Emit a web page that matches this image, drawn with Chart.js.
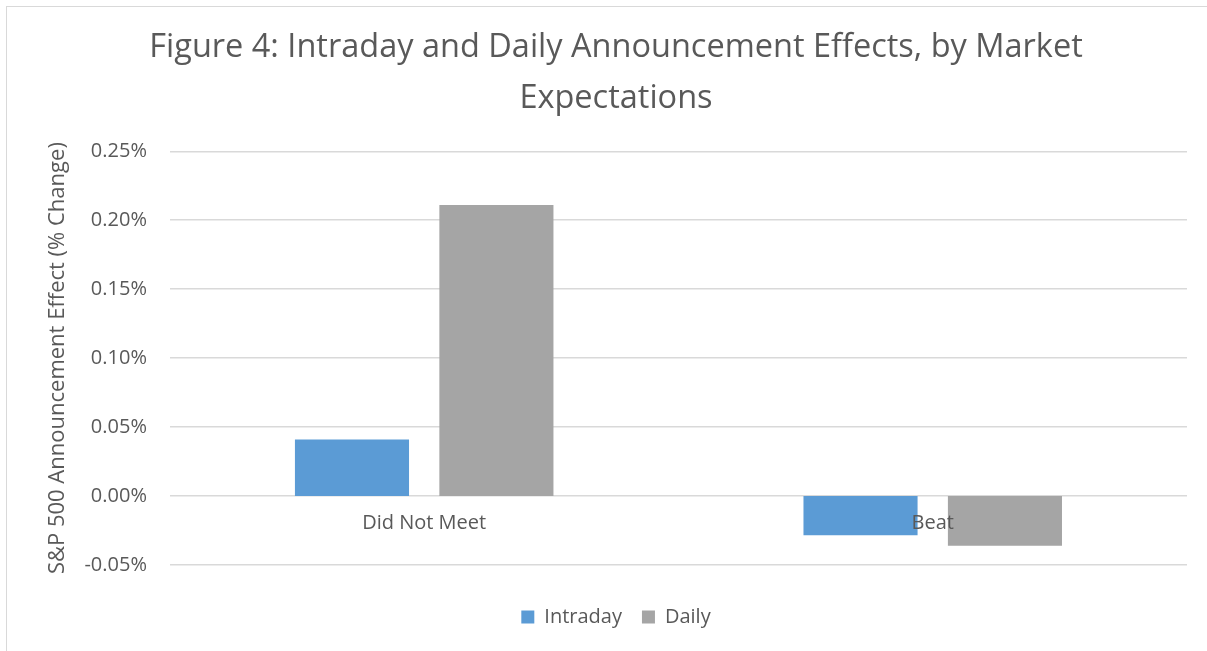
<!DOCTYPE html>
<html>
<head>
<meta charset="utf-8">
<script src="https://cdn.jsdelivr.net/npm/chart.js@4.4.1/dist/chart.umd.min.js"></script>
<style>
  body { margin: 0; background: #fff; width: 1207px; height: 651px; overflow: hidden; position: relative; }
  #frame { position: absolute; left: 6px; top: 6px; width: 1260px; height: 700px; border: 1px solid #d9d9d9; box-sizing: border-box; }
  #wrap { position: absolute; left: 0; top: 0; width: 1207px; height: 651px; }
</style>
</head>
<body>
<div id="frame"></div>
<div id="wrap"><canvas id="chart"></canvas></div>
<script>
// data (values in %)
const categories = ['Did Not Meet', 'Beat'];
const intraday = [0.041, -0.0285];
const daily = [0.211, -0.036];
const titleLines = ['Figure 4: Intraday and Daily Announcement Effects, by Market', 'Expectations'];
const yTitle = 'S&P 500 Announcement Effect (% Change)';

const textColor = '#595959';
const fontName = '"Open Sans", "Noto Sans", sans-serif';

// y tick text, e.g. 0.05 -> "0.05%"
function pct(v) {
    let r = Math.round(v * 100) / 100;
    if (Math.abs(r) < 1e-9) r = 0;
    return r.toFixed(2) + '%';
}

const ctx = document.getElementById('chart');
new Chart(ctx, {
    type: 'bar',
    data: {
        labels: categories,
        datasets: [
            {
                label: 'Intraday',
                data: intraday,
                backgroundColor: '#5b9bd5',
                categoryPercentage: 0.568,
                barPercentage: 0.79
            },
            {
                label: 'Daily',
                data: daily,
                backgroundColor: '#a5a5a5',
                categoryPercentage: 0.568,
                barPercentage: 0.79
            }
        ]
    },
    options: {
        responsive: true,
        maintainAspectRatio: false,
        animation: false,
        layout: {
            padding: { left: 45, right: 20, top: 23, bottom: 14 }
        },
        plugins: {
            title: {
                display: true,
                text: titleLines,
                color: textColor,
                font: { family: fontName, size: 32.5, weight: 'normal', lineHeight: 1.55 },
                padding: { top: 0, bottom: 27.5 }
            },
            legend: {
                position: 'bottom',
                title: {
                    // empty title, only used as a spacer above the items
                    display: true,
                    text: '',
                    font: { size: 10, lineHeight: 1.2 },
                    padding: { top: 0, bottom: 10 }
                },
                labels: {
                    color: textColor,
                    font: { family: fontName, size: 20 },
                    boxWidth: 13,
                    boxHeight: 13,
                    padding: 20
                }
            },
            tooltip: { enabled: false }
        },
        scales: {
            x: {
                position: { y: 0 },
                grid: { display: false, drawTicks: false },
                border: { display: false },
                ticks: {
                    z: 1, // category labels drawn on top of the bars
                    color: textColor,
                    font: { family: fontName, size: 20 },
                    padding: 15
                }
            },
            y: {
                min: -0.05,
                max: 0.25,
                grid: { color: '#d9d9d9', lineWidth: 1.5, drawTicks: false },
                border: { display: false },
                ticks: {
                    stepSize: 0.05,
                    color: textColor,
                    font: { family: fontName, size: 20 },
                    padding: 23,
                    callback: v => pct(v)
                },
                title: {
                    display: true,
                    text: yTitle,
                    color: textColor,
                    font: { family: fontName, size: 22 },
                    padding: { top: 0, bottom: -10 }
                }
            }
        }
    }
});
</script>
</body>
</html>
